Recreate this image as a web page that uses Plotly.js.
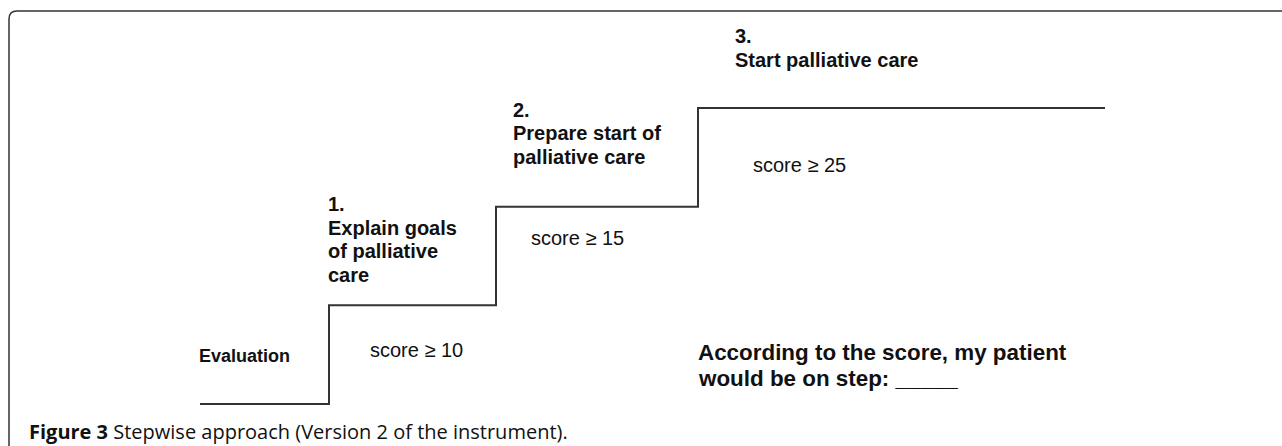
<!DOCTYPE html>
<html>
<head>
<meta charset="utf-8">
<script src="https://cdn.plot.ly/plotly-3.0.1.min.js"></script>
<style>html,body{margin:0;padding:0;background:#fff;}#chart{width:1282px;height:446px;}</style>
</head>
<body>
<div id="chart"></div>
<script>
// ---- data ----
const levels = [0, 1, 2, 3];
const stageNames = ["Evaluation", "1.", "2.", "3."];
const stageTitles = [
  [],
  ["Explain goals", "of palliative", "care"],
  ["Prepare start of", "palliative care"],
  ["Start palliative care"]
];
const thresholds = [10, 15, 25];
const scoreLabels = thresholds.map(t => "score \u2265 " + t);
const questionLines = ["According to the score, my patient", "would be on step: _____"];
const captionBold = "Figure 3";
const captionText = " Stepwise approach (Version 2 of the instrument).";

// ---- layout (pixel positions) ----
const W = 1282, H = 446;
const stepEdges = [200, 329, 496, 698, 1105];
const ink = "#333333";
const diag = "Liberation Sans, Arial, sans-serif";
const py = y => 1 - y / H;
const px = x => x / W;

const xs = [], ys = [];
levels.forEach((lv, i) => { xs.push(stepEdges[i]); ys.push(lv); });
xs.push(stepEdges[stepEdges.length - 1]); ys.push(levels[levels.length - 1]);

const trace = {
  x: xs, y: ys, type: "scatter", mode: "lines",
  line: {shape: "hv", color: ink, width: 2},
  hoverinfo: "skip", showlegend: false
};

const ann = [];
function add(text, x, y, size, bold, font) {
  ann.push({
    text: bold ? "<b>" + text + "</b>" : text,
    xref: "paper", yref: "paper", x: px(x), y: py(y),
    xanchor: "left", yanchor: "middle", showarrow: false,
    font: {family: font || diag, size: size, color: "#111"}
  });
}
// Evaluation
add(stageNames[0], 197, 356, 18, true);
// stage titles
const titlePos = [null, {x: 326, y: 204}, {x: 511, y: 110}, {x: 733, y: 36}];
for (let i = 1; i < 4; i++) {
  const p = titlePos[i];
  add(stageNames[i], p.x, p.y, 20, true);
  stageTitles[i].forEach((ln, j) => add(ln, p.x, p.y + 23.5 * (j + 1), 20, true));
}
// scores
const scorePos = [{x: 368, y: 350}, {x: 529, y: 238}, {x: 751, y: 165}];
scoreLabels.forEach((s, i) => add(s, scorePos[i].x, scorePos[i].y, 20, false));
// question
questionLines.forEach((ln, j) => add(ln, 696, 352 + 26 * j, 22.4, true));
// caption
ann.push({
  text: "<b>" + captionBold + "</b>" + captionText,
  xref: "paper", yref: "paper", x: px(27), y: py(431),
  xanchor: "left", yanchor: "middle", showarrow: false,
  font: {family: "Open Sans, Noto Sans, sans-serif", size: 20, color: "#111"}
});

// y axis: level 0 at 404px, level 3 at 108px
const perLevel = (404 - 108) / 3;
const yMax = 404 / perLevel, yMin = -(H - 404) / perLevel;

const layout = {
  width: W, height: H,
  margin: {l: 0, r: 0, t: 0, b: 0, pad: 0},
  paper_bgcolor: "#fff", plot_bgcolor: "#fff",
  xaxis: {range: [0, W], visible: false, fixedrange: true},
  yaxis: {range: [yMin, yMax], visible: false, fixedrange: true},
  shapes: [{
    type: "path", xref: "paper", yref: "paper",
    path: `M ${px(9)},${py(H + 2)} L ${px(9)},${py(19)} Q ${px(9)},${py(11)} ${px(17)},${py(11)} L ${px(W + 2)},${py(11)}`,
    line: {color: ink, width: 1.5}
  }],
  annotations: ann,
  showlegend: false
};

Plotly.newPlot("chart", [trace], layout, {staticPlot: true, displayModeBar: false});
</script>
</body>
</html>
